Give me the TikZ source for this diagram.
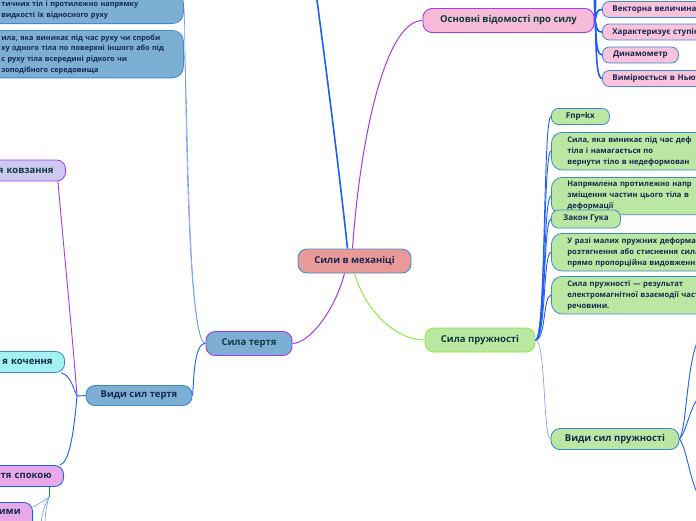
\documentclass[tikz,border=0pt]{standalone}
\usepackage{fontspec}
\setmainfont{Open Sans}

\definecolor{rootfill}{HTML}{E99A98}
\definecolor{frictfill}{HTML}{7DAFD4}
\definecolor{elastfill}{HTML}{BAE8A3}
\definecolor{basicfill}{HTML}{F7BBD9}
\definecolor{pinkleaf}{HTML}{F9C3DC}
\definecolor{slidefill}{HTML}{CDC9F1}
\definecolor{rollfill}{HTML}{A3F1F0}
\definecolor{staticfill}{HTML}{E8A9E9}
\definecolor{edgeblue}{HTML}{3D8AD0}
\definecolor{edgepurple}{HTML}{A23BEB}
\definecolor{edgelime}{HTML}{8FEB3B}
\definecolor{linkblue}{HTML}{1E5EF5}
\definecolor{linklight}{HTML}{7198F5}
\definecolor{textnavy}{HTML}{17284F}
\definecolor{textteal}{HTML}{0E3B3B}

\tikzset{
  mainbox/.style={draw=edgeblue, line width=0.9pt, rounded corners=9pt,
    minimum height=24pt, inner xsep=6pt, text=textnavy,
    font=\bfseries\fontsize{9.5}{11}\selectfont},
  leafbox/.style={draw=edgeblue, line width=0.8pt, rounded corners=7pt,
    minimum height=16pt, inner xsep=10pt, inner ysep=2pt, text=textnavy,
    font=\bfseries\fontsize{8}{10}\selectfont},
  notebox/.style={draw=edgeblue, line width=0.8pt, rounded corners=11pt,
    align=left, inner xsep=16pt, inner ysep=4pt, text=textnavy,
    font=\bfseries\fontsize{7.6}{11}\selectfont},
  cutbox/.style={draw=edgeblue, line width=0.8pt, rounded corners=9pt,
    anchor=east, align=right, text width=90pt, inner xsep=12pt,
    minimum height=21pt, text=textnavy,
    font=\bfseries\fontsize{9.5}{11}\selectfont},
  link/.style={linkblue, line width=#1},
  link/.default=0.9pt,
  thinlink/.style={linklight, line width=0.6pt}
}

\begin{document}
\begin{tikzpicture}[x=1pt,y=-1pt]
\useasboundingbox (0,0) rectangle (696,520);
\clip (0,0) rectangle (696,520);

% central node and main topics
\node[mainbox, fill=rootfill, minimum width=113pt] (root) at (354.5,261) {Сили в механіці};
\node[mainbox, fill=frictfill, draw=edgepurple, text=textteal, minimum width=86pt] (friction) at (249,343.5) {Сила тертя};
\node[mainbox, fill=elastfill, draw=edgelime, text=textteal, minimum width=110pt] (elastic) at (480,340) {Сила пружності};
\node[mainbox, fill=basicfill, draw=edgepurple, text=textteal, minimum width=171pt] (basics) at (508.5,20.5) {Основні відомості про силу};

% basic facts
\node[leafbox, fill=pinkleaf, anchor=west, text width=150pt, align=left] (vector) at (602,9.5) {Векторна величина};
\node[leafbox, fill=pinkleaf, anchor=west, text width=150pt, align=left] (degree) at (602,32) {Характеризує ступін};
\node[leafbox, fill=pinkleaf, anchor=west, minimum width=76pt] (dynamo) at (602,55) {Динамометр};
\node[leafbox, fill=pinkleaf, anchor=west, text width=150pt, align=left] (newton) at (602,78.5) {Вимірюється в Ньют};

% elastic force
\node[leafbox, fill=elastfill, anchor=west, minimum width=58pt, inner xsep=12pt] (formula) at (551,116.5) {Fпр=kx};
\node[notebox, fill=elastfill, anchor=north west, text width=200pt] (elasticdef) at (551,132)
  {Сила, яка виникає під час деф\\тіла і намагається по\\вернути тіло в недеформован};
\node[notebox, fill=elastfill, anchor=north west, text width=200pt] (direction) at (551,177)
  {Напрямлена протилежно напр\\зміщення частин цього тіла в\\деформації};
\node[leafbox, fill=elastfill, anchor=west, minimum width=69pt, minimum height=18pt] (hooke) at (551,219) {Закон Гука};
\node[notebox, fill=elastfill, anchor=north west, text width=200pt] (smalldef) at (551,233)
  {У разі малих пружних деформац\\розтягнення або стиснення сила\\прямо пропорційна видовженн};
\node[notebox, fill=elastfill, anchor=north west, text width=200pt] (origin) at (551,276)
  {Сила пружності — результат\\електромагнітної взаємодії част\\речовини.};
\node[mainbox, fill=elastfill, minimum width=128pt, minimum height=21pt] (elastickinds) at (615,439) {Види сил пружності};

% friction force
\node[notebox, fill=frictfill, anchor=south west, text width=168pt, inner xsep=14pt,
  font=\bfseries\fontsize{7.3}{11}\selectfont] (frictbox) at (-13,24)
  {\mbox{}\\тичних тіл і протилежно напрямку\\видкості їх відносного руху};
\node[notebox, fill=frictfill, anchor=north west, text width=168pt, inner xsep=14pt,
  font=\bfseries\fontsize{7.3}{10.7}\selectfont] (frictdef) at (-13,30)
  {ила, яка виникає під час руху чи спроби\\ху одного тіла по поверхні іншого або під\\с руху тіла всередині рідкого чи\\зоподібного середовища};
\node[mainbox, fill=frictfill, minimum width=106pt, minimum height=20pt] (frictkinds) at (139,395.5) {Види сил тертя};
\node[cutbox, fill=slidefill, draw=edgepurple, text=textteal] (sliding) at (66,170.5) {я ковзання};
\node[cutbox, fill=rollfill] (rolling) at (65,362) {я кочення};
\node[cutbox, fill=staticfill, draw=linkblue] (static) at (64,476) {тя спокою};
\node[cutbox, fill=staticfill, draw=linkblue, anchor=north east, minimum height=30pt] (surfaces) at (33,502) {ими\\\mbox{}};

% free ends
\coordinate (upper) at (313,-30);
\coordinate (vtj) at (77,396);
\coordinate (spj) at (49,497);

% connectors
\draw[link=1.6pt] ([xshift=-7pt]root.north) .. controls (338,160) and (325,60) .. (upper);
\draw[edgepurple, line width=1pt] ([xshift=-2pt]root.north) .. controls (360,140) and (385,20.5) .. (basics.west);
\draw[edgepurple, line width=1pt] ([xshift=-10pt]root.south) .. controls (335,310) and (310,343) .. (friction.east);
\draw[edgelime, line width=1pt] (root.south) .. controls (365,310) and (395,340) .. (elastic.west);

\foreach \leaf in {vector,degree,dynamo,newton}
  \draw[link=1.6pt] (basics.east) .. controls (597,20.5) and (594,0|-\leaf.west) .. (\leaf.west);
\draw[link=1.6pt] (basics.east) .. controls (597,20.5) and (591,0) .. (598,-25);
\draw[link=1.2pt] (basics.east) .. controls (597,20.5) and (594,-10) .. (598,-45);

\foreach \leaf in {formula,elasticdef,direction,hooke,smalldef,origin}
  \draw[link=0.9pt] (elastic.east) .. controls (546,340) and (543,0|-\leaf.west) .. (\leaf.west);
\draw[thinlink] (elastic.east) .. controls (546,340) and (543,439) .. (elastickinds.west);
\draw[link] (elastickinds.east) .. controls (688,425) and (686,345) .. (705,330);
\draw[link] (elastickinds.east) .. controls (688,430) and (690,400) .. (705,392);
\draw[link] (elastickinds.east) .. controls (688,450) and (690,490) .. (705,505);

\draw[thinlink] (friction.west) .. controls (186,343) and (188,53) .. (frictdef.east);
\draw[thinlink] (friction.west) .. controls (184,343) and (186,6) .. (frictbox.east);
\draw[link] (friction.west) .. controls (193,343) and (194,386) .. (frictkinds.east);
\draw[link] (frictkinds.west) -- (vtj);
\draw[edgepurple, line width=0.9pt] (vtj) .. controls (72,330) and (62,230) .. ([xshift=-8pt]sliding.south east);
\draw[link] (vtj) .. controls (72,385) and (70,375) .. ([xshift=-4pt]rolling.south east);
\draw[link] (vtj) .. controls (74,430) and (70,462) .. ([xshift=-4pt]static.north east);
\draw[link] ([xshift=-15pt]static.south east) -- (spj);
\draw[thinlink] (spj) .. controls (46,500) and (40,503) .. ([yshift=-5pt]surfaces.north east);
\draw[thinlink] (spj) .. controls (45,505) and (42,512) .. (41,525);
\draw[thinlink] (spj) .. controls (47,505) and (45,512) .. (45,525);

\end{tikzpicture}
\end{document}
